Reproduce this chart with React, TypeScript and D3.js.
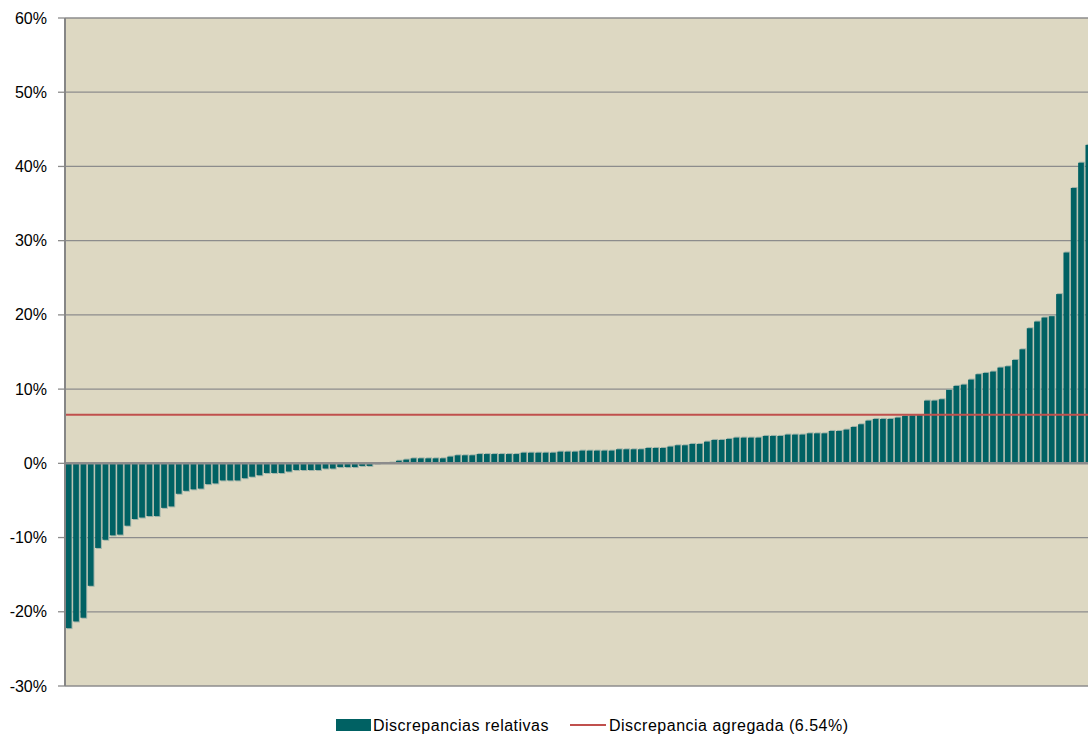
import React from "react";
import * as d3 from "d3";

const values: number[] = [
  -22.2, -21.3, -20.8, -16.5, -11.4, -10.3, -9.7, -9.6, -8.4, -7.5,
  -7.3, -7.1, -7.1, -6.0, -5.8, -4.1, -3.7, -3.5, -3.4, -2.8,
  -2.7, -2.3, -2.3, -2.3, -2.0, -1.8, -1.6, -1.3, -1.3, -1.3,
  -1.1, -0.9, -0.9, -0.9, -0.9, -0.7, -0.7, -0.5, -0.5, -0.5,
  -0.35, -0.35, -0.03, 0.05, 0.1, 0.35, 0.5, 0.67, 0.67, 0.67,
  0.67, 0.67, 0.9, 1.08, 1.08, 1.08, 1.25, 1.25, 1.25, 1.25,
  1.25, 1.25, 1.43, 1.43, 1.43, 1.43, 1.43, 1.57, 1.57, 1.57,
  1.71, 1.71, 1.71, 1.71, 1.71, 1.89, 1.89, 1.89, 1.89, 2.07,
  2.07, 2.07, 2.25, 2.43, 2.43, 2.61, 2.61, 2.92, 3.15, 3.15,
  3.29, 3.46, 3.46, 3.46, 3.46, 3.69, 3.69, 3.69, 3.87, 3.87,
  3.87, 4.04, 4.04, 4.04, 4.36, 4.36, 4.54, 4.9, 5.26, 5.75,
  5.98, 5.98, 5.98, 6.16, 6.38, 6.45, 6.5, 8.45, 8.45, 8.63,
  9.9, 10.43, 10.6, 11.28, 12.0, 12.18, 12.36, 12.9, 13.07, 13.93,
  15.36, 18.2, 19.1, 19.64, 19.82, 22.8, 28.4, 37.1, 40.5, 42.9,
];
const aggregate = 6.54;
const yTicks: number[] = [-30, -20, -10, 0, 10, 20, 30, 40, 50, 60];
const legendLabels = ["Discrepancias relativas", "Discrepancia agregada (6.54%)"];

const W = 1088;
const H = 734;
const plot = { left: 65, right: 1092, top: 18, bottom: 686 };

export default function App() {
  const x = d3
    .scaleBand<number>()
    .domain(values.map((_, i) => i))
    .range([plot.left, plot.right])
    .paddingInner(0.22)
    .paddingOuter(0.11);
  const y = d3.scaleLinear().domain([-30, 60]).range([plot.bottom, plot.top]);
  const bw = x.bandwidth();
  const font = "'Liberation Sans', Arial, sans-serif";
  const y0 = y(0);
  return (
    <svg
      width={W}
      height={H}
      style={{ position: "absolute", left: 0, top: 0, background: "#ffffff" }}
    >
      <defs>
        <clipPath id="plotclip">
          <rect x={plot.left} y={plot.top - 2} width={plot.right - plot.left} height={plot.bottom - plot.top + 4} />
        </clipPath>
      </defs>
      <rect x={plot.left} y={plot.top} width={plot.right - plot.left} height={plot.bottom - plot.top} fill="#DDD8C2" />
      {yTicks.map((t) => (
        <g key={t}>
          {t !== 0 && (
            <line x1={plot.left} x2={plot.right} y1={y(t)} y2={y(t)} stroke="#8C8C8C" strokeWidth={1.3} />
          )}
          <line x1={plot.left - 7} x2={plot.left} y1={y(t)} y2={y(t)} stroke="#8C8C8C" strokeWidth={1.3} />
          <text
            x={47}
            y={y(t)}
            dy="0.35em"
            textAnchor="end"
            fontFamily={font}
            fontSize={16}
            fill="#000"
          >
            {t}%
          </text>
        </g>
      ))}
      <g clipPath="url(#plotclip)">
        {values.map((v, i) => {
          const bx = x(i)!;
          const top = Math.min(y(v), y0);
          const h = Math.abs(y(v) - y0);
          return (
            <g key={i}>
              <rect x={bx + 1} y={v >= 0 ? top - 1 : top} width={bw} height={h + 1} fill="#9FB3A9" />
              <rect x={bx} y={top} width={bw} height={h} fill="#006163" />
            </g>
          );
        })}
        <line x1={plot.left} x2={plot.right} y1={y0} y2={y0} stroke="#8C8C8C" strokeWidth={2.5} />
        <line x1={plot.left} x2={plot.right} y1={y(aggregate)} y2={y(aggregate)} stroke="#C0504D" strokeWidth={2} />
      </g>
      <line x1={plot.left} x2={plot.left} y1={plot.top} y2={plot.bottom} stroke="#868686" strokeWidth={2} />
      <g>
        <rect x={336} y={719} width={35} height={12} fill="#006163" />
        <text x={373} y={731} fontFamily={font} fontSize={16} letterSpacing={0.5} fill="#000">
          {legendLabels[0]}
        </text>
        <line x1={570} x2={606} y1={725} y2={725} stroke="#C0504D" strokeWidth={2} />
        <text x={609} y={731} fontFamily={font} fontSize={16} letterSpacing={0.5} fill="#000">
          {legendLabels[1]}
        </text>
      </g>
    </svg>
  );
}
